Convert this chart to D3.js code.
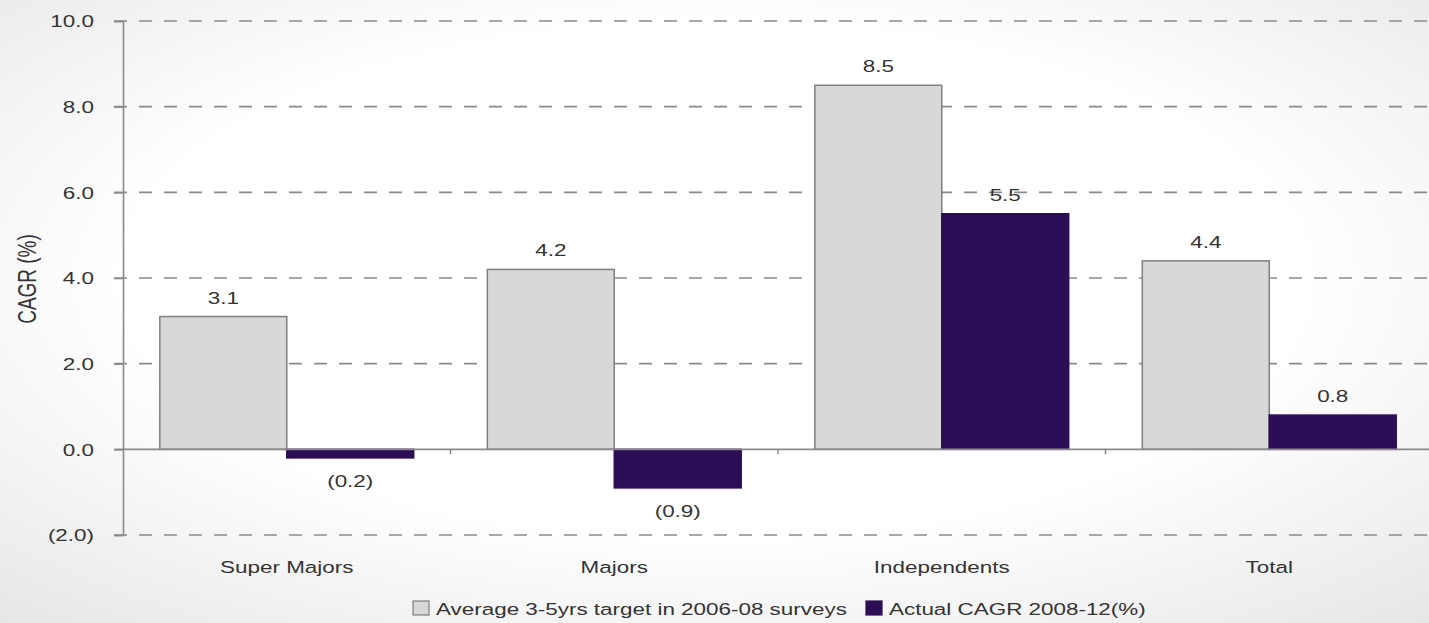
<!DOCTYPE html>
<html>
<head>
<meta charset="utf-8">
<script src="https://cdn.jsdelivr.net/npm/d3@7"></script>
<style>
html,body{margin:0;padding:0;background:#fff;}
svg{display:block;}
text{font-family:"Liberation Sans",Arial,sans-serif;fill:#333;}
</style>
</head>
<body>
<svg id="chart" width="1429" height="623"></svg>
<script>
const categories = ["Super Majors", "Majors", "Independents", "Total"];
const seriesNames = ["Average 3-5yrs target in 2006-08 surveys", "Actual CAGR 2008-12(%)"];
const targetValues = [3.1, 4.2, 8.5, 4.4];
const actualValues = [-0.2, -0.9, 5.5, 0.8];
const yTicks = [-2, 0, 2, 4, 6, 8, 10];
const yTickLabels = ["(2.0)", "0.0", "2.0", "4.0", "6.0", "8.0", "10.0"];
const yTitle = "CAGR (%)";

(function () {
const W = 1429, H = 623;
const SX = 1.32, FS = 17;
const svg = d3.select("#chart");

// background vignette
const defs = svg.append("defs");
const rg = defs.append("radialGradient").attr("id", "bg")
  .attr("cx", "50%").attr("cy", "45%").attr("r", "75%");
rg.append("stop").attr("offset", "0%").attr("stop-color", "#ffffff");
rg.append("stop").attr("offset", "55%").attr("stop-color", "#ffffff");
rg.append("stop").attr("offset", "100%").attr("stop-color", "#e6e6e6");
svg.append("rect").attr("width", W).attr("height", H).attr("fill", "url(#bg)");

const pLeft = 123, pRight = 1433, pTop = 21, pBottom = 535;
const y = d3.scaleLinear().domain([-2, 10]).range([pBottom, pTop]);
const x0 = d3.scaleBand().domain(categories).range([pLeft, pRight]).paddingInner(0).paddingOuter(0);
const x1 = d3.scaleBand().domain(seriesNames).range([0, x0.bandwidth()]).paddingInner(0).paddingOuter(0.29);

const colors = ["#d8d8d8", "#2d0e56"];
const strokes = ["#7f7f7f", "#2d0e56"];
const st = (x, yy) => `translate(${x},${yy}) scale(${SX},1)`;

// gridlines (dashed) except zero
svg.append("g").selectAll("line").data(yTicks.filter(d => d !== 0)).join("line")
  .attr("x1", pLeft - 9).attr("x2", W)
  .attr("y1", d => y(d)).attr("y2", d => y(d))
  .attr("stroke", "#8a8a8a").attr("stroke-width", 1.6)
  .attr("stroke-dasharray", "13,12");

// y axis
const yAxis = d3.axisLeft(y).tickValues(yTicks).tickSize(9)
  .tickFormat((d, i) => yTickLabels[i]);
const ya = svg.append("g").attr("transform", `translate(${pLeft},0)`).call(yAxis);
ya.select(".domain").attr("stroke", "#8a8a8a").attr("stroke-width", 1.6);
ya.selectAll(".tick line").attr("stroke", "#8a8a8a").attr("stroke-width", 1.6);
ya.selectAll(".tick text").attr("font-size", FS).attr("fill", "#333")
  .attr("font-family", "Liberation Sans, Arial, sans-serif")
  .attr("x", 0).attr("dy", "0.35em")
  .attr("transform", st(-29, 0));

// y title
svg.append("text")
  .attr("transform", `translate(36,279) scale(${SX},1) rotate(-90)`)
  .attr("text-anchor", "middle").attr("font-size", 19)
  .attr("font-family", "Liberation Sans Narrow, DejaVu Sans Condensed, sans-serif")
  .text(yTitle);

// bars
const data = categories.map((c, i) => ({cat: c, vals: [targetValues[i], actualValues[i]]}));
const groups = svg.append("g").selectAll("g").data(data).join("g")
  .attr("transform", d => `translate(${x0(d.cat)},0)`);
groups.selectAll("rect").data(d => d.vals.map((v, j) => ({v, s: seriesNames[j], j}))).join("rect")
  .attr("x", d => x1(d.s))
  .attr("width", x1.bandwidth())
  .attr("y", d => y(Math.max(0, d.v)))
  .attr("height", d => Math.abs(y(d.v) - y(0)))
  .attr("fill", d => colors[d.j])
  .attr("stroke", d => strokes[d.j]).attr("stroke-width", 1.5);

// zero line with category ticks
svg.append("line").attr("x1", pLeft - 9).attr("x2", W)
  .attr("y1", y(0)).attr("y2", y(0))
  .attr("stroke", "#8a8a8a").attr("stroke-width", 1.6);
svg.append("g").selectAll("line").data(categories.slice(1)).join("line")
  .attr("x1", d => x0(d)).attr("x2", d => x0(d))
  .attr("y1", y(0)).attr("y2", y(0) + 5)
  .attr("stroke", "#8a8a8a").attr("stroke-width", 1.5);

// value labels
const fmt = v => v < 0 ? `(${d3.format(".1f")(-v)})` : d3.format(".1f")(v);
groups.selectAll("text.val").data(d => d.vals.map((v, j) => ({v, s: seriesNames[j], j}))).join("text")
  .attr("class", "val")
  .attr("transform", d => st(x1(d.s) + x1.bandwidth() / 2, d.v >= 0 ? y(d.v) - 13 : y(d.v) + 29))
  .attr("text-anchor", "middle").attr("font-size", FS)
  .text(d => fmt(d.v));

// category labels
svg.append("g").selectAll("text").data(categories).join("text")
  .attr("transform", d => st(x0(d) + x0.bandwidth() / 2, 573))
  .attr("text-anchor", "middle").attr("font-size", FS)
  .text(d => d);

// legend
const legend = svg.append("g");
const lx = [413, 866];
seriesNames.forEach((s, i) => {
  legend.append("rect").attr("x", lx[i]).attr("y", 601).attr("width", 16).attr("height", 14)
    .attr("fill", colors[i]).attr("stroke", strokes[i]).attr("stroke-width", 1.2);
  legend.append("text").attr("transform", st(lx[i] + 23, 615)).attr("font-size", FS).text(s);
});
})();
</script>
</body>
</html>
